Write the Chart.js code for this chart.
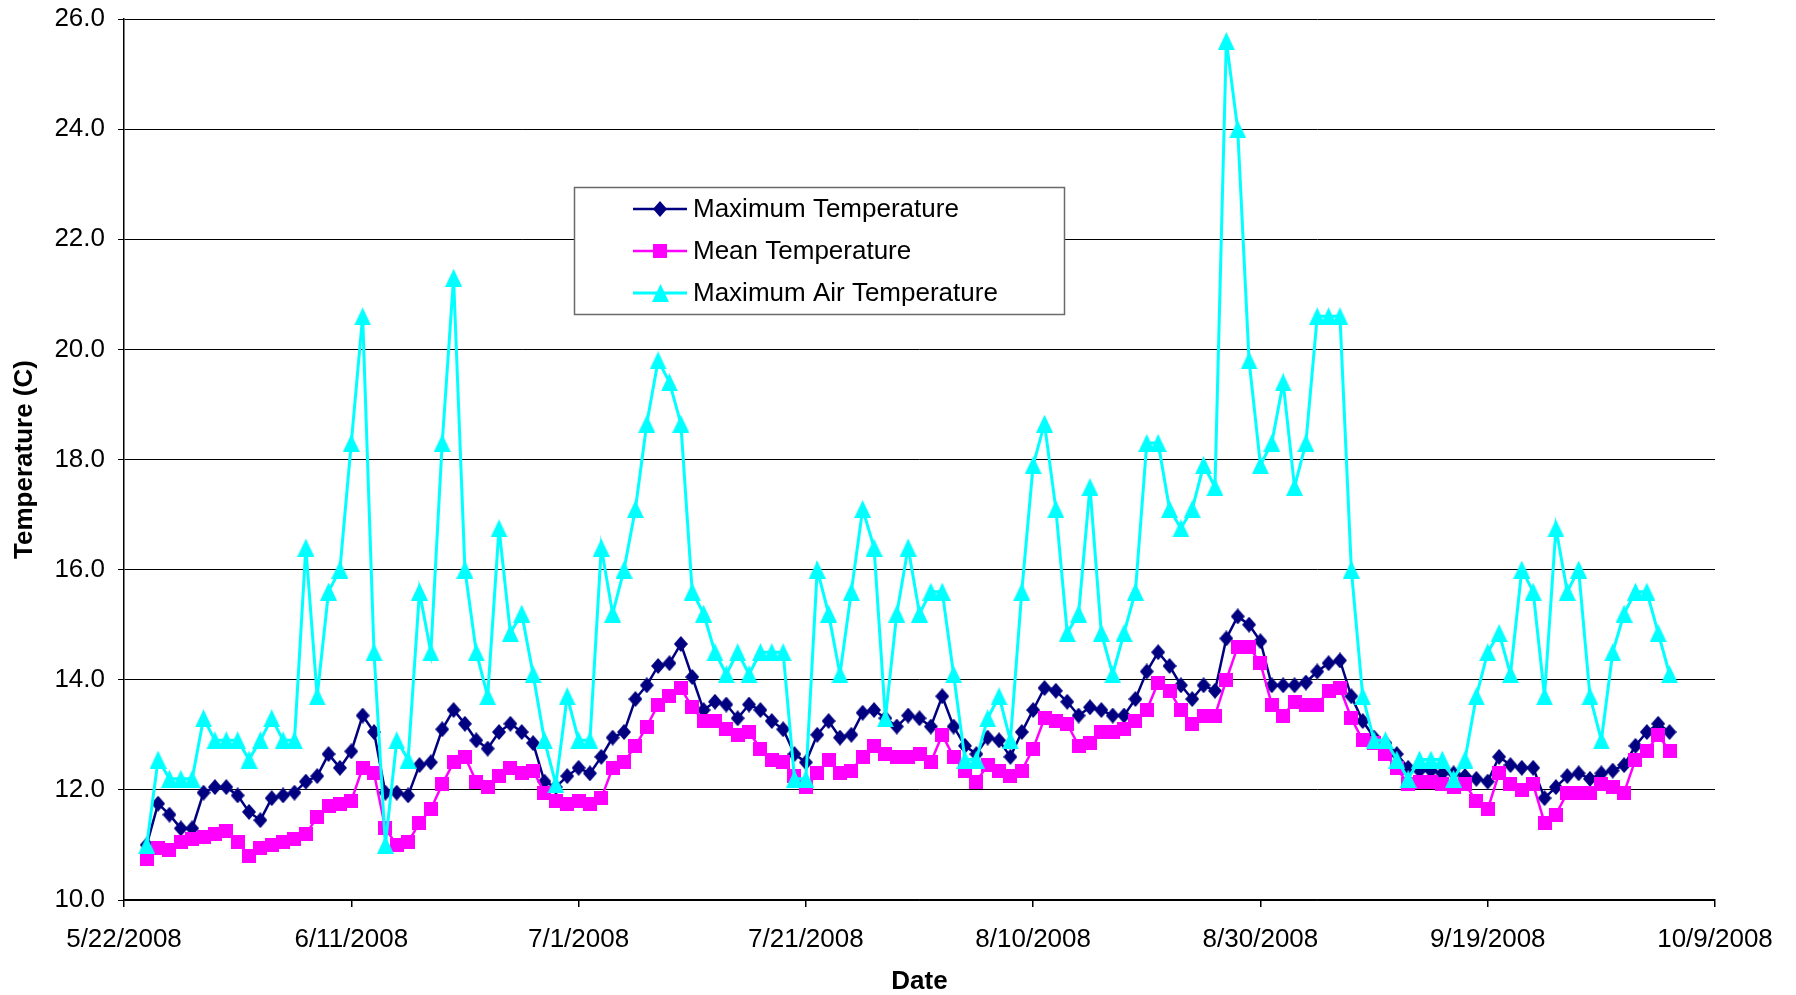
<!DOCTYPE html>
<html>
<head>
<meta charset="utf-8">
<script src="https://cdn.jsdelivr.net/npm/chart.js@4.4.1/dist/chart.umd.min.js"></script>
<style>
  html, body { margin: 0; padding: 0; background: #ffffff; }
  #wrap { width: 1796px; height: 995px; position: relative; }
</style>
</head>
<body>
<div id="wrap"><canvas id="chart" width="1796" height="995"></canvas></div>
<script>
// ---------------- data ----------------
const axisStartDate = '5/22/2008';
const firstDataDate = '5/24/2008';
const xTickLabels = ['5/22/2008', '6/11/2008', '7/1/2008', '7/21/2008', '8/10/2008', '8/30/2008', '9/19/2008', '10/9/2008'];
const yTickValues = [10, 12, 14, 16, 18, 20, 22, 24, 26];
const seriesNames = ['Maximum Temperature', 'Mean Temperature', 'Maximum Air Temperature'];

const maxTemperature = [
  11.0, 11.75, 11.55, 11.3, 11.3, 11.95, 12.05, 12.05, 11.9, 11.6,
  11.45, 11.85, 11.9, 11.95, 12.15, 12.25, 12.65, 12.4, 12.7, 13.35,
  13.05, 11.95, 11.95, 11.9, 12.45, 12.5, 13.1, 13.45, 13.2, 12.9,
  12.75, 13.05, 13.2, 13.05, 12.85, 12.15, 12.05, 12.25, 12.4, 12.3,
  12.6, 12.95, 13.05, 13.65, 13.9, 14.25, 14.3, 14.65, 14.05, 13.45,
  13.6, 13.55, 13.3, 13.55, 13.45, 13.25, 13.1, 12.65, 12.5, 13.0,
  13.25, 12.95, 13.0, 13.4, 13.45, 13.3, 13.15, 13.35, 13.3, 13.15,
  13.7, 13.15, 12.8, 12.65, 12.95, 12.9, 12.6, 13.05, 13.45, 13.85,
  13.8, 13.6, 13.35, 13.5, 13.45, 13.35, 13.35, 13.65, 14.15, 14.5,
  14.25, 13.9, 13.65, 13.9, 13.8, 14.75, 15.15, 15.0, 14.7, 13.9,
  13.9, 13.9, 13.95, 14.15, 14.3, 14.35, 13.7, 13.25, 12.95, 12.85,
  12.65, 12.4, 12.35, 12.35, 12.3, 12.3, 12.25, 12.2, 12.15, 12.6,
  12.45, 12.4, 12.4, 11.85, 12.05, 12.25, 12.3, 12.2, 12.3, 12.35,
  12.45, 12.8, 13.05, 13.2, 13.05
];

const meanTemperature = [
  10.75, 10.95, 10.9, 11.05, 11.1, 11.15, 11.2, 11.25, 11.05, 10.8,
  10.95, 11.0, 11.05, 11.1, 11.2, 11.5, 11.7, 11.75, 11.8, 12.4,
  12.3, 11.3, 11.0, 11.05, 11.4, 11.65, 12.1, 12.5, 12.6, 12.15,
  12.05, 12.25, 12.4, 12.3, 12.35, 11.95, 11.8, 11.75, 11.8, 11.75,
  11.85, 12.4, 12.5, 12.8, 13.15, 13.55, 13.7, 13.85, 13.5, 13.25,
  13.25, 13.1, 13.0, 13.05, 12.75, 12.55, 12.5, 12.25, 12.05, 12.3,
  12.55, 12.3, 12.35, 12.6, 12.8, 12.65, 12.6, 12.6, 12.65, 12.5,
  13.0, 12.6, 12.35, 12.15, 12.45, 12.35, 12.25, 12.35, 12.75, 13.3,
  13.25, 13.2, 12.8, 12.85, 13.05, 13.05, 13.1, 13.25, 13.45, 13.95,
  13.8, 13.45, 13.2, 13.35, 13.35, 14.0, 14.6, 14.6, 14.3, 13.55,
  13.35, 13.6, 13.55, 13.55, 13.8, 13.85, 13.3, 12.9, 12.85, 12.65,
  12.4, 12.1, 12.15, 12.15, 12.1, 12.05, 12.1, 11.8, 11.65, 12.3,
  12.1, 12.0, 12.1, 11.4, 11.55, 11.95, 11.95, 11.95, 12.1, 12.05,
  11.95, 12.55, 12.7, 13.0, 12.7
];

const maxAirTemperature = [
  11.0, 12.55, 12.2, 12.2, 12.2, 13.3, 12.9, 12.9, 12.9, 12.55,
  12.9, 13.3, 12.9, 12.9, 16.4, 13.7, 15.6, 16.0, 18.3, 20.6,
  14.5, 11.0, 12.9, 12.55, 15.6, 14.5, 18.3, 21.3, 16.0, 14.5,
  13.7, 16.75, 14.85, 15.2, 14.1, 12.9, 12.1, 13.7, 12.9, 12.9,
  16.4, 15.2, 16.0, 17.1, 18.65, 19.8, 19.4, 18.65, 15.6, 15.2,
  14.5, 14.1, 14.5, 14.1, 14.5, 14.5, 14.5, 12.2, 12.2, 16.0,
  15.2, 14.1, 15.6, 17.1, 16.4, 13.3, 15.2, 16.4, 15.2, 15.6,
  15.6, 14.1, 12.55, 12.55, 13.3, 13.7, 12.9, 15.6, 17.9, 18.65,
  17.1, 14.85, 15.2, 17.5, 14.85, 14.1, 14.85, 15.6, 18.3, 18.3,
  17.1, 16.75, 17.1, 17.9, 17.5, 25.6, 24.0, 19.8, 17.9, 18.3,
  19.4, 17.5, 18.3, 20.6, 20.6, 20.6, 16.0, 13.7, 12.9, 12.9,
  12.55, 12.2, 12.55, 12.55, 12.55, 12.2, 12.55, 13.7, 14.5, 14.85,
  14.1, 16.0, 15.6, 13.7, 16.75, 15.6, 16.0, 13.7, 12.9, 14.5,
  15.2, 15.6, 15.6, 14.85, 14.1
];

// ---------------- helpers ----------------
const DAY_MS = 86400000;
function parseMDY(s) {
  const [m, d, y] = s.split('/').map(Number);
  return Date.UTC(y, m - 1, d);
}
function fmtMDY(t) {
  const d = new Date(t);
  return (d.getUTCMonth() + 1) + '/' + d.getUTCDate() + '/' + d.getUTCFullYear();
}
const axisStart = parseMDY(axisStartDate);
const firstT = parseMDY(firstDataDate);
// consecutive daily categories
const categories = maxTemperature.map((_, i) => fmtMDY(firstT + i * DAY_MS));
const xOf = cat => Math.round((parseMDY(cat) - axisStart) / DAY_MS);
const toPoints = arr => arr.map((v, i) => ({ x: xOf(categories[i]), y: v }));

const FONT = "'Liberation Sans', Arial, Helvetica, sans-serif";

// marker glyphs (slightly taller than wide, as in the reference)
function makeMarker(kind, w, h, color) {
  const c = document.createElement('canvas');
  c.width = w; c.height = h;
  const g = c.getContext('2d');
  g.fillStyle = color;
  g.beginPath();
  if (kind === 'diamond') {
    g.moveTo(w / 2, 0); g.lineTo(w, h / 2); g.lineTo(w / 2, h); g.lineTo(0, h / 2);
  } else if (kind === 'triangle') {
    g.moveTo(w / 2, 0); g.lineTo(w, h); g.lineTo(0, h);
  } else {
    g.rect(0, 0, w, h);
  }
  g.closePath();
  g.fill();
  return c;
}
const diamondMarker = makeMarker('diamond', 14, 16, '#000080');
const squareMarker = makeMarker('square', 14, 14, '#FF00FF');
const triangleMarker = makeMarker('triangle', 17, 18, '#00FFFF');

// ---------------- legend plugin ----------------
const boxLegend = {
  id: 'boxLegend',
  afterDraw(chart) {
    const ctx = chart.ctx;
    ctx.save();
    const L = 574, T = 187, W = 490, H = 127;
    ctx.fillStyle = '#ffffff';
    ctx.fillRect(L, T, W, H);
    ctx.strokeStyle = '#6a6a6a';
    ctx.lineWidth = 1.5;
    ctx.strokeRect(L + 0.5, T + 0.5, W, H);
    chart.data.datasets.forEach((ds, i) => {
      const y = 209 + i * 42;
      ctx.strokeStyle = ds.borderColor;
      ctx.lineWidth = ds.borderWidth;
      ctx.beginPath();
      ctx.moveTo(633, y);
      ctx.lineTo(687, y);
      ctx.stroke();
      const img = ds.pointStyle;
      ctx.drawImage(img, Math.round(660 - img.width / 2), Math.round(y - img.height / 2));
      ctx.fillStyle = '#000000';
      ctx.font = '26px ' + FONT;
      ctx.textBaseline = 'middle';
      ctx.textAlign = 'left';
      ctx.fillText(ds.label, 693, y + 1);
    });
    ctx.restore();
  }
};

// ---------------- chart ----------------
const ctx = document.getElementById('chart').getContext('2d');
new Chart(ctx, {
  type: 'line',
  data: {
    datasets: [
      {
        label: seriesNames[0],
        data: toPoints(maxTemperature),
        borderColor: '#000080',
        backgroundColor: '#000080',
        borderWidth: 2.5,
        pointStyle: diamondMarker,
        pointRadius: 7,
        tension: 0,
        order: 3
      },
      {
        label: seriesNames[1],
        data: toPoints(meanTemperature),
        borderColor: '#FF00FF',
        backgroundColor: '#FF00FF',
        borderWidth: 2.5,
        pointStyle: squareMarker,
        pointRadius: 7,
        tension: 0,
        order: 2
      },
      {
        label: seriesNames[2],
        data: toPoints(maxAirTemperature),
        borderColor: '#00FFFF',
        backgroundColor: '#00FFFF',
        borderWidth: 3,
        pointStyle: triangleMarker,
        pointRadius: 9,
        tension: 0,
        order: 1
      }
    ]
  },
  options: {
    responsive: false,
    animation: false,
    devicePixelRatio: 1,
    layout: { padding: { left: 0, right: 81, top: 19, bottom: 0 } },
    plugins: {
      legend: { display: false },
      tooltip: { enabled: false }
    },
    scales: {
      x: {
        type: 'linear',
        min: 0,
        max: 140,
        ticks: {
          stepSize: 20,
          autoSkip: false,
          maxRotation: 0,
          color: '#000000',
          padding: 17,
          font: { family: FONT, size: 26 },
          callback: v => xTickLabels[Math.round(v / 20)] || ''
        },
        grid: { drawOnChartArea: false, drawTicks: true, tickLength: 7, color: '#000000', lineWidth: 1.5 },
        border: { color: '#000000', width: 1.5 },
        title: {
          display: true,
          text: 'Date',
          color: '#000000',
          font: { family: FONT, size: 26, weight: 'bold', lineHeight: 1 },
          padding: { top: 0, bottom: 0 }
        },
        afterFit(scale) { scale.height = 95; }
      },
      y: {
        min: yTickValues[0],
        max: yTickValues[yTickValues.length - 1],
        afterBuildTicks(scale) { scale.ticks = yTickValues.map(v => ({ value: v })); },
        ticks: {
          color: '#000000',
          padding: 13,
          font: { family: FONT, size: 26 },
          callback: v => Number(v).toFixed(1)
        },
        grid: { color: '#000000', lineWidth: 1, tickLength: 6 },
        border: { color: '#000000', width: 1.5 },
        title: {
          display: true,
          text: 'Temperature (C)',
          color: '#000000',
          font: { family: FONT, size: 26, weight: 'bold', lineHeight: 1 },
          padding: { top: 12, bottom: 0 }
        },
        afterFit(scale) {
          scale.width = 124;
          scale.paddingTop = 0;
          scale.paddingBottom = 0;
        }
      }
    }
  },
  plugins: [boxLegend]
});
</script>
</body>
</html>
